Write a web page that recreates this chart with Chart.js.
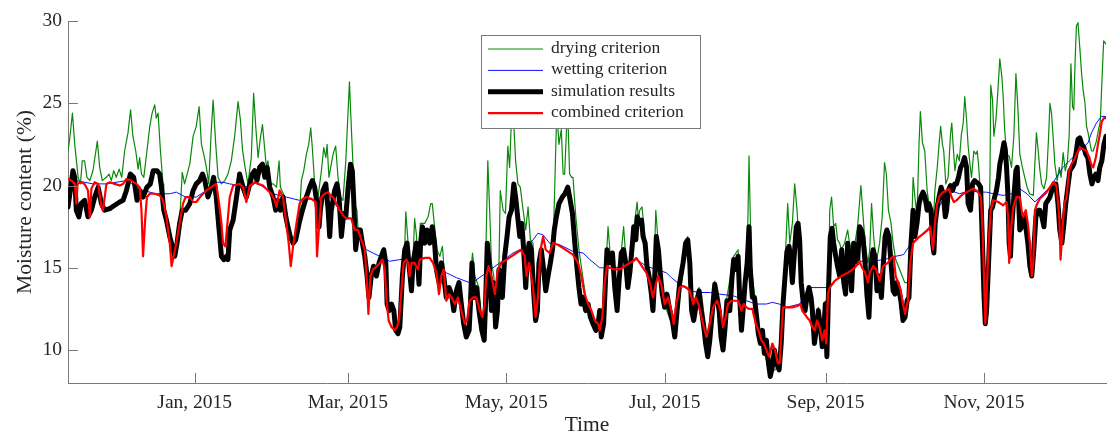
<!DOCTYPE html>
<html lang="en">
<head>
<meta charset="UTF-8">
<title>Moisture content</title>
<script src="https://cdn.jsdelivr.net/npm/chart.js@4"></script>
<style>
  html, body { margin: 0; padding: 0; background: #fff; }
  #wrap { width: 1108px; height: 434px; position: relative; }
</style>
</head>
<body>
<div id="wrap"><canvas id="chart"></canvas></div>
<script>
// x values are days counted from 1 Jan 2015
const monthDays = [0, 59, 120, 181, 243, 304];
const monthLabels = ['Jan, 2015', 'Mar, 2015', 'May, 2015', 'Jul, 2015', 'Sep, 2015', 'Nov, 2015'];
const moistureTicks = [10, 15, 20, 25, 30];

// [day, moisture %]
const dryingCriterion = [
  [-48.8,22.1],[-48.1,22.9],[-47.1,24.4],[-46.2,22.5],[-44.9,20.5],[-44.0,20.1],[-43.3,21.5],[-42.4,21.5],[-41.5,20.5],[-40.4,20.3],
  [-39.2,20.9],[-37.5,22.7],[-36.6,21.1],[-35.6,20.3],[-34.0,20.5],[-33.0,20.7],[-32.1,20.3],[-31.2,20.9],[-30.2,20.5],[-29.1,21.0],
  [-28.1,20.5],[-27.0,22.1],[-25.7,23.2],[-24.7,24.6],[-23.8,23.0],[-22.7,22.1],[-21.8,21.0],[-21.2,21.7],[-20.5,20.7],[-19.6,20.5],
  [-18.4,22.1],[-17.3,23.6],[-16.4,24.4],[-15.4,24.9],[-14.8,24.1],[-14.1,24.4],[-13.2,22.1],[-12.2,20.1],[-11.9,18.6],[-10.9,18.0],
  [-9.6,17.0],[-8.3,16.2],[-7.7,15.8],[-6.8,16.6],[-5.8,17.8],[-4.8,20.8],[-3.9,20.1],[-1.9,21.3],[-0.6,23.0],[0.6,23.6],
  [1.7,24.8],[2.6,22.5],[3.5,21.9],[4.5,21.1],[5.4,20.1],[6.4,23.4],[7.1,25.2],[8.1,22.5],[9.0,20.5],[10.3,20.1],
  [11.6,20.3],[12.8,20.7],[14.1,21.5],[15.4,23.0],[16.7,25.1],[17.6,24.0],[18.4,22.2],[19.3,21.2],[20.5,20.1],[21.8,21.7],
  [22.7,25.6],[23.5,23.6],[24.4,21.7],[25.3,22.9],[26.1,23.7],[26.8,22.5],[27.6,21.1],[28.2,21.5],[29.1,20.1],[30.2,20.1],
  [31.5,19.9],[32.5,21.5],[33.0,19.9],[34.7,19.3],[35.9,17.6],[36.8,17.0],[37.9,16.6],[38.9,16.8],[40.2,17.8],[41.1,20.3],
  [42.0,20.9],[43.0,21.9],[43.9,22.5],[44.7,23.5],[45.3,22.3],[46.2,20.1],[47.5,19.3],[48.8,20.9],[49.7,22.3],[50.5,21.7],
  [51.0,22.5],[51.7,20.5],[52.6,21.3],[53.3,21.9],[54.3,22.4],[55.2,20.5],[56.1,19.3],[57.1,19.1],[58.2,21.5],[59.1,24.6],
  [59.6,26.3],[60.2,24.0],[61.0,21.1],[61.6,18.9],[62.5,18.5],[62.9,17.4],[63.8,17.4],[64.6,16.6],[65.5,15.8],[66.4,14.6],
  [67.1,13.3],[68.0,14.6],[68.9,15.2],[70.0,14.6],[71.0,15.4],[71.9,15.8],[72.8,16.2],[73.6,15.4],[74.1,12.9],[74.9,12.5],
  [75.8,12.9],[76.7,12.5],[77.4,11.3],[78.3,11.1],[79.0,11.5],[80.0,14.6],[80.9,16.2],[81.3,18.4],[82.2,16.5],[82.8,15.2],
  [83.5,13.7],[84.1,15.6],[84.7,18.0],[85.4,17.0],[86.4,14.1],[86.9,17.7],[88.6,17.7],[89.9,18.1],[90.9,18.9],[91.5,18.9],
  [92.4,17.5],[93.3,16.1],[94.4,15.7],[95.4,16.3],[96.3,14.5],[96.9,13.3],[98.0,13.9],[98.9,13.5],[99.8,12.5],[100.8,13.7],
  [101.8,14.2],[102.7,12.9],[103.6,11.7],[104.6,10.9],[105.7,11.3],[106.2,13.0],[106.8,15.5],[107.0,15.9],[107.9,14.5],[109.5,13.8],
  [110.6,11.3],[111.5,10.7],[112.1,15.7],[112.9,21.5],[113.6,18.5],[114.3,15.3],[115.2,14.5],[115.9,11.5],[116.6,12.5],[117.2,15.3],
  [117.7,19.7],[118.8,18.5],[119.7,18.3],[120.6,22.4],[121.3,21.1],[122.1,24.5],[122.6,24.0],[123.0,23.4],[123.6,21.5],[124.5,20.1],
  [125.4,19.9],[126.5,18.5],[127.5,17.3],[128.4,18.7],[129.3,16.7],[130.3,16.5],[130.6,13.5],[131.3,11.9],[132.0,12.5],[132.6,15.4],
  [133.5,16.2],[134.8,14.9],[136.1,14.9],[137.4,16.5],[138.3,17.7],[139.1,22.5],[139.5,24.5],[140.3,22.5],[141.2,23.4],[141.9,20.7],
  [142.5,20.7],[143.2,23.4],[143.7,24.4],[144.4,20.7],[145.2,20.5],[145.7,20.5],[146.8,18.1],[148.0,16.1],[150.6,13.2],[153.4,12.0],
  [156.6,11.2],[158.3,14.8],[159.2,17.5],[160.2,15.5],[162.7,12.6],[164.3,16.0],[165.2,17.5],[166.8,14.0],[168.6,16.7],[170.4,19.0],
  [170.9,17.9],[171.4,18.5],[172.3,18.7],[173.5,16.7],[175.9,13.6],[176.5,12.6],[177.6,18.5],[178.6,16.3],[181.0,12.8],[184.9,11.0],
  [189.9,16.9],[191.4,12.6],[194.3,13.8],[197.6,9.8],[200.3,14.2],[203.5,10.2],[205.0,13.2],[207.6,15.7],[209.3,16.1],[210.6,11.4],
  [212.8,15.5],[213.5,21.8],[214.0,18.0],[214.4,15.0],[215.6,13.4],[217.9,10.6],[221.7,8.6],[225.1,9.0],[225.9,11.0],[226.6,13.0],
  [227.6,16.1],[228.4,18.9],[229.2,16.5],[230.2,17.7],[231.1,20.1],[232.0,18.5],[232.7,16.5],[233.6,13.8],[234.5,13.2],[236.6,13.9],
  [237.9,12.6],[238.7,10.6],[240.2,12.6],[241.7,10.4],[242.9,13.0],[243.5,9.8],[244.2,14.5],[244.6,18.5],[245.3,19.3],[246.1,17.5],
  [246.9,17.7],[247.6,16.7],[248.4,16.5],[249.1,16.1],[250.3,16.5],[251.5,17.3],[252.3,16.4],[253.8,16.0],[255.3,17.5],[256.6,20.0],
  [257.1,18.9],[258.2,16.5],[259.3,15.3],[260.0,16.1],[260.7,18.9],[261.5,16.9],[262.5,15.3],[263.8,16.5],[264.8,18.1],[265.7,21.4],
  [266.4,20.7],[267.2,18.5],[268.2,17.7],[269.0,16.5],[270.0,15.5],[271.5,14.9],[273.5,14.1],[275.1,14.1],[276.0,16.5],[276.7,20.5],
  [277.4,19.3],[278.2,18.1],[279.0,22.6],[279.5,24.5],[280.3,22.6],[281.2,22.1],[282.1,19.7],[282.8,18.9],[283.6,18.5],[284.4,17.5],
  [285.1,19.7],[286.0,21.1],[286.7,22.5],[287.3,23.6],[288.0,22.5],[288.5,22.1],[289.3,20.1],[290.2,20.5],[291.1,23.1],[291.6,23.8],
  [292.1,22.5],[292.8,20.9],[293.7,21.9],[294.5,21.5],[295.3,23.1],[296.0,23.8],[296.6,25.4],[297.3,24.0],[297.9,22.4],[298.6,21.3],
  [299.2,20.5],[300.1,22.1],[300.9,21.9],[301.4,22.1],[301.9,21.3],[302.4,20.1],[302.8,19.9],[303.4,16.7],[304.0,13.6],[304.5,11.8],
  [305.0,12.6],[305.8,15.6],[306.3,20.5],[306.6,26.1],[307.3,25.2],[307.8,23.0],[308.6,24.0],[309.3,25.6],[310.1,27.7],[310.9,26.6],
  [311.4,25.4],[311.9,23.6],[312.7,21.8],[313.7,21.8],[314.6,21.1],[315.5,23.0],[316.3,26.8],[317.1,24.6],[317.8,21.9],[318.8,21.1],
  [319.7,20.5],[320.6,19.9],[321.6,19.5],[323.0,19.4],[323.6,21.3],[324.2,23.2],[324.9,22.1],[325.5,21.0],[326.2,20.1],[327.1,19.8],
  [328.1,20.5],[328.9,23.0],[329.4,25.0],[330.0,24.4],[330.7,22.8],[331.3,21.3],[332.2,20.3],[333.0,21.1],[333.7,20.5],[334.5,22.0],
  [335.3,20.9],[336.1,21.4],[336.8,23.0],[337.5,27.4],[338.1,24.8],[338.6,24.6],[339.1,27.6],[339.6,29.7],[340.2,29.9],[340.9,28.4],
  [341.6,26.8],[342.2,25.8],[342.9,25.0],[343.5,23.6],[344.1,23.2],[344.8,22.6],[345.4,22.1],[346.1,22.1],[347.3,22.7],[348.0,23.3],
  [348.8,23.9],[349.5,26.6],[350.1,28.8],[351.0,28.6]
];

const wettingCriterion = [
  [-48.8,20.4],[-39.2,20.1],[-34.0,20.1],[-26.3,20.3],[-19.9,19.7],[-14.8,19.5],[-9.6,19.5],[-7.1,19.6],[-3.5,19.3],[0.6,19.3],
  [4.5,19.7],[8.3,20.2],[10.9,20.2],[13.5,20.1],[21.2,19.9],[23.8,20.2],[30.2,19.5],[35.3,19.3],[40.4,19.1],[43.0,19.2],
  [46.9,19.1],[50.7,19.6],[55.8,18.5],[58.4,18.1],[61.0,17.9],[66.1,16.1],[68.7,15.9],[72.5,15.6],[75.1,15.4],[79.0,15.5],
  [84.1,15.6],[90.5,15.6],[91.8,15.3],[96.9,14.7],[100.8,14.4],[105.9,14.1],[107.9,14.2],[112.3,14.7],[117.5,15.3],[122.6,15.9],
  [127.8,16.3],[130.3,16.7],[132.2,17.1],[134.2,17.0],[136.7,16.5],[140.6,16.4],[145.7,16.0],[149.6,15.9],[152.2,15.5],[156.0,15.0],
  [161.1,15.0],[166.3,15.1],[170.1,15.5],[174.0,15.1],[177.8,14.9],[181.7,14.7],[183.6,14.4],[186.8,14.0],[190.7,13.6],[194.5,13.5],
  [198.4,13.5],[202.2,13.4],[207.4,13.3],[212.5,13.0],[216.3,12.8],[220.2,12.8],[222.5,12.9],[225.1,12.8],[227.9,12.6],[233.0,12.8],
  [235.6,13.4],[236.9,13.8],[243.5,13.8],[244.6,13.9],[246.5,14.2],[251.6,14.7],[256.1,15.4],[261.3,15.4],[265.1,15.5],[268.3,15.6],
  [270.0,15.7],[273.0,15.8],[276.0,16.5],[279.2,16.9],[283.3,17.5],[286.3,18.6],[288.9,19.3],[291.0,19.7],[294.6,19.5],[298.5,19.7],
  [302.2,19.6],[305.0,19.6],[307.6,19.5],[311.4,19.4],[314.7,19.5],[317.8,19.8],[320.6,19.5],[323.6,19.0],[326.8,19.5],[329.4,19.9],
  [331.9,20.5],[334.4,21.1],[336.9,21.5],[340.8,22.1],[344.1,22.6],[345.4,23.2],[347.3,23.8],[349.2,24.2],[351.0,24.2]
];

const simulationResults = [
  [-48.8,18.7],[-47.9,19.7],[-46.9,20.9],[-46.2,20.5],[-45.6,18.5],[-44.6,18.1],[-43.7,18.9],[-42.4,19.1],[-41.1,18.1],[-39.8,18.5],
  [-38.5,19.3],[-37.2,19.9],[-35.9,18.9],[-34.7,18.5],[-32.7,18.6],[-30.8,18.8],[-28.9,19.0],[-27.6,19.1],[-26.3,19.7],[-24.8,20.7],
  [-23.5,20.5],[-22.2,19.1],[-21.2,19.7],[-19.9,19.3],[-18.4,19.9],[-17.1,20.1],[-16.0,20.9],[-14.5,20.9],[-13.5,20.7],[-12.8,19.9],
  [-11.9,18.5],[-10.9,17.9],[-9.6,16.9],[-8.3,16.1],[-7.7,15.7],[-6.8,16.5],[-5.8,17.7],[-4.8,18.5],[-3.5,18.5],[-1.9,18.9],
  [-0.6,19.7],[0.6,20.1],[1.9,20.3],[3.0,20.7],[3.9,20.3],[5.1,19.3],[6.4,19.9],[7.3,20.5],[8.3,19.3],[9.4,17.3],
  [10.3,15.7],[11.2,15.5],[12.2,15.7],[12.8,15.5],[13.5,17.3],[14.8,17.9],[16.1,19.3],[17.3,20.7],[18.6,19.9],[19.9,19.3],
  [20.9,19.9],[22.2,20.7],[23.1,20.9],[24.0,20.3],[25.0,21.1],[26.1,21.3],[27.0,20.5],[27.9,21.1],[28.9,19.9],[30.2,19.3],
  [31.2,18.5],[32.1,19.1],[33.0,18.5],[34.0,19.3],[35.1,18.1],[35.9,17.5],[36.8,16.9],[37.9,16.5],[38.9,16.7],[40.2,17.7],
  [41.5,18.5],[43.0,19.3],[44.3,19.9],[45.3,20.3],[46.2,19.9],[47.1,18.9],[47.9,17.5],[48.4,18.5],[49.4,19.7],[50.5,20.1],
  [51.4,18.5],[52.0,16.9],[52.6,18.5],[53.9,19.7],[54.8,20.1],[55.6,19.3],[56.5,16.9],[57.4,18.3],[58.2,18.1],[59.1,19.9],
  [60.0,21.3],[60.7,20.9],[61.2,19.3],[62.0,16.1],[62.9,17.3],[63.8,17.3],[64.6,16.5],[65.5,15.7],[66.4,14.5],[67.1,13.2],
  [68.0,14.5],[68.9,15.1],[70.0,14.5],[71.0,15.3],[71.9,15.7],[72.8,16.1],[73.6,15.3],[74.1,12.8],[74.9,12.4],[75.8,12.8],
  [76.7,12.4],[77.4,11.2],[78.3,11.0],[79.0,11.4],[80.0,14.5],[80.9,16.1],[81.8,16.5],[82.6,15.1],[83.5,13.6],[84.1,15.3],
  [85.4,16.5],[86.4,14.0],[87.0,16.5],[87.7,17.5],[88.6,16.5],[89.5,17.3],[90.5,16.5],[91.5,17.5],[92.4,16.5],[93.1,14.9],
  [94.1,14.1],[95.0,15.3],[95.9,14.5],[96.9,13.2],[98.0,13.8],[98.9,13.4],[99.8,12.4],[100.8,13.6],[101.8,14.1],[102.7,12.8],
  [103.6,11.6],[104.6,10.8],[105.7,11.2],[106.2,12.8],[106.8,15.3],[107.5,13.2],[108.5,13.8],[109.5,12.4],[110.6,11.2],[111.5,10.6],
  [112.1,13.2],[112.7,16.5],[113.4,15.3],[114.3,12.4],[115.2,14.1],[115.9,11.4],[116.6,12.4],[117.2,14.9],[117.7,14.1],[118.5,13.2],
  [119.4,15.7],[120.3,16.9],[121.1,18.1],[122.0,18.5],[122.9,20.1],[123.6,19.3],[124.4,18.1],[125.2,16.9],[126.0,17.7],[126.7,16.1],
  [127.5,13.8],[128.0,15.3],[128.8,16.5],[129.7,16.1],[130.6,13.4],[131.3,11.8],[132.0,12.4],[132.6,15.3],[133.5,16.1],[134.4,14.9],
  [135.2,13.6],[136.1,14.5],[137.0,15.3],[137.8,16.1],[138.5,17.3],[139.3,18.1],[140.3,18.9],[141.6,19.3],[142.6,19.5],[143.7,19.9],
  [144.4,19.3],[145.5,18.3],[146.4,16.5],[147.3,14.9],[148.0,13.8],[148.8,12.8],[149.6,13.2],[150.6,12.4],[151.5,12.8],[152.4,12.0],
  [153.4,11.6],[154.5,11.2],[155.4,11.6],[156.0,12.4],[156.6,10.8],[157.5,11.6],[158.3,14.5],[158.8,16.1],[159.6,15.7],[160.2,15.3],
  [160.9,15.9],[161.8,13.8],[162.7,12.4],[163.4,14.1],[164.3,15.9],[165.2,16.1],[166.0,15.3],[166.8,13.8],[167.6,14.7],[168.6,16.5],
  [169.1,17.5],[169.9,16.7],[170.5,18.1],[171.2,17.7],[172.1,17.9],[172.7,16.9],[173.5,16.5],[174.2,15.1],[175.0,14.5],[175.9,13.4],
  [176.5,12.4],[177.2,14.5],[177.8,16.9],[178.6,16.1],[179.4,14.5],[180.1,13.4],[181.0,12.6],[181.9,13.4],[183.0,12.4],[184.0,11.8],
  [184.9,10.8],[185.8,12.4],[186.8,14.1],[188.1,15.3],[189.1,16.5],[189.9,16.7],[190.7,15.3],[191.4,12.4],[192.2,11.8],[193.2,12.8],
  [194.3,13.6],[195.2,12.4],[196.1,11.4],[196.8,10.4],[197.6,9.6],[198.4,10.6],[199.4,12.4],[200.3,14.0],[201.2,13.2],[202.0,12.4],
  [202.7,10.8],[203.5,10.0],[204.3,11.4],[205.0,13.0],[206.1,12.4],[207.0,14.5],[207.6,15.5],[208.4,14.9],[209.3,15.7],[209.9,13.2],
  [210.6,11.2],[211.2,12.4],[212.0,14.1],[212.8,15.3],[213.5,17.5],[214.0,14.9],[214.8,13.2],[215.6,13.2],[216.3,12.2],[217.1,11.0],
  [217.9,10.4],[218.7,11.2],[219.4,9.8],[220.2,10.6],[221.0,9.2],[221.7,8.4],[222.5,9.0],[223.3,10.0],[224.1,9.2],[225.1,8.8],
  [225.9,10.4],[226.6,12.8],[227.2,14.1],[228.1,16.0],[228.9,16.3],[229.5,15.7],[230.2,14.1],[230.9,15.7],[231.7,17.5],[232.4,17.7],
  [233.0,16.7],[233.6,14.1],[234.3,13.0],[235.1,12.4],[235.8,13.2],[236.6,13.8],[237.4,13.2],[237.9,12.4],[238.7,10.4],[239.4,11.2],
  [240.2,12.4],[241.0,11.4],[241.7,10.2],[242.3,11.2],[242.9,12.8],[243.5,9.6],[244.2,14.1],[244.8,16.9],[245.5,17.4],[246.1,16.5],
  [246.9,15.7],[247.6,15.1],[248.4,14.5],[249.2,16.1],[250.0,14.1],[250.7,13.4],[251.5,16.5],[252.3,15.3],[253.0,13.6],[253.8,16.5],
  [254.6,16.1],[255.3,15.3],[256.1,17.5],[256.8,17.3],[257.4,16.9],[258.2,15.3],[258.9,13.4],[259.7,12.0],[260.5,15.3],[261.3,16.1],
  [262.0,15.7],[262.8,13.6],[263.6,14.5],[264.5,13.2],[265.1,14.9],[265.9,16.9],[266.6,17.3],[267.4,16.9],[268.2,15.3],[269.0,13.6],
  [269.7,13.4],[270.5,14.1],[271.3,13.6],[272.0,13.0],[272.8,11.8],[273.6,12.0],[274.4,13.0],[275.1,13.2],[275.9,16.5],[276.7,18.5],
  [277.4,16.9],[278.2,17.7],[279.0,18.9],[279.7,19.3],[280.5,19.6],[281.3,19.3],[282.1,18.5],[282.8,18.9],[283.6,18.5],[284.2,16.5],
  [284.7,15.9],[285.2,17.7],[286.0,18.7],[286.7,19.3],[287.5,19.9],[288.3,19.5],[289.1,18.1],[289.6,18.5],[290.3,19.7],[291.1,20.0],
  [291.9,19.7],[292.7,20.1],[293.4,20.1],[294.2,20.5],[295.0,21.1],[295.7,21.3],[296.5,21.7],[297.3,21.1],[297.9,18.9],[298.8,18.5],
  [299.6,20.1],[300.4,20.3],[301.1,20.2],[301.9,20.1],[302.7,19.9],[303.4,16.5],[304.0,13.4],[304.5,11.6],[305.0,12.4],[305.8,15.4],
  [306.6,18.5],[307.3,18.7],[308.1,19.3],[308.8,19.7],[309.6,20.5],[310.1,21.3],[310.9,21.9],[311.7,22.6],[312.2,22.2],[312.7,21.1],
  [313.2,19.5],[313.7,16.5],[314.2,15.7],[314.7,17.5],[315.5,19.3],[316.3,20.9],[316.8,21.1],[317.3,19.3],[317.8,17.3],[318.6,17.5],
  [319.4,18.1],[320.1,17.5],[320.9,16.5],[321.7,15.1],[322.4,14.5],[323.2,16.1],[324.0,18.1],[324.8,18.5],[325.5,18.5],[326.3,18.1],
  [327.1,17.5],[327.8,18.9],[328.6,19.1],[329.4,19.3],[330.1,19.7],[330.9,20.1],[331.7,20.1],[332.5,18.9],[333.2,17.3],[334.0,16.5],
  [334.8,17.7],[335.5,18.9],[336.3,19.9],[337.1,20.9],[337.9,21.1],[338.6,21.3],[339.4,21.9],[340.2,22.8],[340.9,22.9],[341.7,22.5],
  [342.5,22.3],[343.2,21.9],[344.0,21.7],[344.8,20.7],[345.6,20.1],[346.3,20.5],[347.1,20.7],[347.9,20.3],[348.6,21.1],[349.4,21.5],
  [350.2,22.5],[351.0,23.0]
];

const combinedCriterion = [
  [-48.8,20.4],[-47.5,20.3],[-46.2,20.1],[-45.6,18.9],[-45.1,20.1],[-44.0,20.2],[-42.4,20.1],[-41.1,19.7],[-40.4,18.1],[-39.8,19.8],
  [-38.5,20.2],[-37.2,20.1],[-35.9,18.7],[-35.3,18.5],[-34.0,20.1],[-32.7,20.2],[-30.8,20.1],[-28.9,20.0],[-27.6,20.1],[-26.3,20.4],
  [-24.4,20.3],[-22.5,20.1],[-21.2,19.9],[-20.5,18.5],[-19.9,15.7],[-19.1,17.9],[-18.4,19.3],[-17.3,19.5],[-15.4,19.5],[-13.5,19.4],
  [-12.2,19.1],[-10.9,18.1],[-9.6,16.5],[-8.9,15.1],[-8.1,15.7],[-7.1,16.5],[-5.8,17.7],[-4.5,18.9],[-3.5,19.3],[-1.9,19.3],
  [-0.6,19.0],[0.6,19.0],[2.6,19.4],[4.5,19.7],[6.4,19.9],[8.3,20.1],[9.4,18.9],[10.3,17.7],[10.9,16.5],[11.8,16.3],
  [12.6,17.7],[13.5,19.3],[14.8,20.0],[17.3,20.1],[18.6,19.9],[19.9,19.0],[21.2,20.0],[23.1,20.2],[24.4,20.1],[26.3,20.0],
  [28.2,19.7],[29.5,19.5],[30.8,19.1],[31.5,18.7],[32.7,19.7],[34.0,19.3],[35.3,17.7],[36.2,16.5],[37.0,15.1],[37.9,16.3],
  [39.2,17.7],[40.4,18.9],[41.7,19.2],[43.0,19.3],[44.9,19.2],[46.6,19.0],[47.1,15.7],[47.9,17.5],[48.8,19.3],[50.1,19.5],
  [51.4,19.6],[52.3,19.4],[53.3,19.3],[54.6,18.9],[55.8,18.5],[57.1,18.2],[58.4,18.0],[60.3,18.0],[61.6,17.3],[62.9,17.3],
  [64.2,16.7],[65.5,16.1],[66.4,13.9],[66.9,12.2],[67.7,14.5],[68.7,14.9],[70.2,15.1],[71.3,15.3],[72.3,15.5],[73.2,14.9],
  [73.8,13.2],[74.7,11.8],[75.8,11.4],[77.0,11.2],[77.9,11.4],[78.7,11.8],[79.6,13.6],[80.5,15.3],[81.5,15.5],[82.2,15.3],
  [82.8,14.5],[83.5,15.3],[84.7,15.3],[86.0,14.9],[86.7,15.5],[88.6,15.6],[90.5,15.6],[91.8,15.3],[93.1,14.7],[94.1,13.4],
  [95.0,14.5],[95.9,14.9],[96.9,13.0],[98.0,13.4],[98.9,13.2],[100.2,12.8],[101.4,13.2],[102.7,12.4],[104.0,11.6],[104.9,11.8],
  [105.9,13.0],[107.2,13.2],[108.5,13.2],[109.8,12.4],[110.8,12.0],[111.7,12.8],[112.3,14.5],[113.2,15.1],[114.3,14.5],[115.6,13.4],
  [116.8,14.9],[118.1,15.3],[120.1,15.5],[122.0,15.7],[123.9,15.9],[125.8,16.1],[127.1,15.7],[127.8,14.5],[128.8,15.3],[130.3,13.8],
  [131.3,12.0],[132.2,13.2],[133.2,16.1],[134.2,16.9],[135.2,16.1],[136.7,15.9],[138.0,16.5],[139.9,16.4],[141.9,16.2],[143.8,16.0],
  [145.7,15.8],[147.7,15.3],[148.9,14.5],[150.2,13.4],[151.5,12.8],[152.8,12.4],[154.1,11.8],[155.4,11.6],[156.0,11.2],[157.0,12.0],
  [157.9,14.1],[158.8,15.1],[159.9,15.0],[161.8,14.9],[163.7,14.9],[165.6,15.1],[167.6,15.3],[168.8,15.4],[170.1,15.6],[171.4,15.3],
  [172.7,15.0],[174.0,14.7],[175.3,14.1],[176.5,13.2],[177.6,14.0],[178.5,14.5],[179.8,13.9],[181.0,12.8],[182.3,13.2],[183.6,12.4],
  [184.5,11.6],[185.5,12.8],[186.8,13.8],[188.1,13.9],[189.4,13.8],[190.7,13.6],[192.0,12.8],[193.0,13.2],[194.0,12.8],[195.2,12.0],
  [196.1,11.4],[197.1,10.8],[198.4,11.6],[199.7,12.6],[201.2,13.0],[202.5,12.4],[203.5,11.4],[204.5,12.0],[205.4,12.8],[206.7,13.0],
  [208.0,13.0],[209.3,13.0],[210.6,12.4],[211.5,12.8],[212.5,12.6],[213.5,12.5],[214.8,12.5],[216.1,11.6],[217.1,11.2],[218.3,10.6],
  [219.2,10.4],[220.2,10.0],[221.2,9.6],[222.5,10.4],[223.5,10.0],[224.6,9.2],[225.3,9.2],[225.9,10.8],[226.6,12.6],[227.9,12.6],
  [230.4,12.6],[232.4,12.7],[233.3,12.8],[234.0,12.4],[234.9,12.2],[235.8,12.0],[236.9,11.8],[237.9,11.4],[238.8,11.2],[239.7,11.8],
  [240.7,11.4],[241.7,10.6],[242.6,11.2],[243.3,10.4],[243.9,13.4],[244.6,13.8],[246.5,14.2],[249.1,14.5],[251.6,14.7],[254.2,15.0],
  [256.1,15.4],[257.1,15.0],[258.2,14.7],[259.3,14.1],[260.0,14.7],[261.3,15.1],[262.5,14.9],[263.8,14.2],[265.1,15.1],[267.0,15.3],
  [268.3,15.6],[269.2,15.7],[270.0,14.5],[270.9,14.1],[271.8,13.7],[272.8,12.8],[273.6,12.2],[274.7,13.0],[275.6,15.3],[276.7,16.5],
  [277.9,16.7],[279.2,16.9],[280.8,17.1],[282.4,17.3],[283.3,17.5],[284.4,16.1],[285.1,17.7],[286.0,18.9],[287.0,19.4],[288.3,19.6],
  [289.6,19.7],[290.6,19.8],[291.5,19.3],[292.4,19.0],[293.4,19.1],[294.7,19.3],[296.0,19.5],[297.3,19.6],[298.6,19.7],[299.8,19.8],
  [301.1,19.7],[302.2,19.5],[302.8,19.3],[303.4,17.5],[304.0,14.5],[304.5,11.6],[305.0,13.4],[305.8,16.5],[306.6,18.5],[307.6,19.1],
  [309.5,19.0],[311.4,18.8],[312.7,19.0],[313.3,18.1],[313.7,15.3],[314.4,17.3],[315.3,18.7],[316.5,19.3],[317.8,19.3],[318.5,18.5],
  [319.1,18.1],[320.1,18.5],[320.9,17.7],[321.7,16.5],[322.4,14.5],[323.0,15.3],[323.6,18.5],[324.5,18.9],[325.5,19.2],[326.8,19.4],
  [328.1,19.6],[329.4,19.9],[330.7,20.2],[331.9,20.0],[333.0,18.1],[333.5,15.5],[334.3,17.5],[335.0,18.9],[335.8,19.3],[336.8,20.9],
  [337.7,21.3],[338.6,21.5],[339.6,21.9],[340.9,22.3],[342.2,22.2],[343.5,22.1],[344.5,21.7],[345.3,21.3],[346.1,21.1],[347.1,21.7],
  [347.9,22.5],[348.6,23.1],[349.4,23.9],[350.2,24.1],[351.0,24.1]
];

const serif = "'Liberation Serif', 'Times New Roman', serif";
const axisGrey = '#7a7a7a';
const textGrey = '#262626';

const toPoints = rows => rows.map(r => ({ x: r[0], y: r[1] }));

// MATLAB style: tick marks pointing into the plot
const insideTicks = {
  id: 'insideTicks',
  afterDatasetsDraw(chart) {
    const { ctx, chartArea: a, scales: { x, y } } = chart;
    ctx.save();
    ctx.strokeStyle = axisGrey;
    ctx.lineWidth = 1;
    ctx.beginPath();
    x.ticks.forEach(t => {
      const px = Math.round(x.getPixelForValue(t.value)) + 0.5;
      ctx.moveTo(px, a.bottom);
      ctx.lineTo(px, a.bottom - 10);
    });
    y.ticks.forEach(t => {
      const py = Math.round(y.getPixelForValue(t.value)) + 0.5;
      ctx.moveTo(a.left, py);
      ctx.lineTo(a.left + 10, py);
    });
    ctx.stroke();
    ctx.restore();
  }
};

// legend box sitting on top of the lines
const boxedLegend = {
  id: 'boxedLegend',
  afterDatasetsDraw(chart) {
    const { ctx, chartArea: a } = chart;
    const left = a.left + 413, top = a.top + 14, w = 219, h = 93;
    ctx.save();
    ctx.fillStyle = '#fff';
    ctx.fillRect(left, top, w, h);
    ctx.strokeStyle = axisGrey;
    ctx.lineWidth = 1;
    ctx.strokeRect(left + 0.5, top + 0.5, w, h);
    ctx.font = '17.5px ' + serif;
    ctx.textBaseline = 'alphabetic';
    chart.data.datasets.forEach((ds, i) => {
      const cy = top + 14 + i * 21.4;
      ctx.strokeStyle = ds.borderColor;
      ctx.lineWidth = ds.borderWidth;
      ctx.beginPath();
      ctx.moveTo(left + 7, cy);
      ctx.lineTo(left + 62, cy);
      ctx.stroke();
      ctx.fillStyle = textGrey;
      ctx.fillText(ds.label, left + 70, cy + 4);
    });
    ctx.restore();
  }
};

new Chart(document.getElementById('chart'), {
  type: 'line',
  data: {
    datasets: [
      { label: 'drying criterion', data: toPoints(dryingCriterion), borderColor: '#0a880a', borderWidth: 1.2, order: 3 },
      { label: 'wetting criterion', data: toPoints(wettingCriterion), borderColor: '#1010ff', borderWidth: 1, order: 2 },
      { label: 'simulation results', data: toPoints(simulationResults), borderColor: '#000000', borderWidth: 5, order: 1 },
      { label: 'combined criterion', data: toPoints(combinedCriterion), borderColor: '#ff0000', borderWidth: 2.2, order: 0 }
    ]
  },
  options: {
    responsive: true,
    maintainAspectRatio: false,
    animation: false,
    elements: {
      point: { radius: 0 },
      line: { tension: 0, borderJoinStyle: 'round', borderCapStyle: 'round', fill: false }
    },
    layout: { padding: { top: 21, right: 2, left: 0, bottom: 0 } },
    plugins: { legend: { display: false }, tooltip: { enabled: false } },
    scales: {
      x: {
        type: 'linear',
        min: -48.8,
        max: 351,
        afterBuildTicks: s => { s.ticks = monthDays.map(v => ({ value: v })); },
        afterFit: s => { s.height = 51; },
        grid: { display: false, drawTicks: false },
        border: { display: true, color: axisGrey, width: 1 },
        ticks: {
          autoSkip: false, maxRotation: 0, padding: 10, color: textGrey,
          font: { family: serif, size: 19.5, lineHeight: 1 },
          callback: (v, i) => monthLabels[i]
        },
        title: {
          display: true, text: 'Time', color: textGrey, padding: 0,
          font: { family: serif, size: 21.5, lineHeight: 0.82 }
        }
      },
      y: {
        min: 8,
        max: 30,
        afterBuildTicks: s => { s.ticks = moistureTicks.map(v => ({ value: v })); },
        afterFit: s => { s.width = 68; },
        grid: { display: false, drawTicks: false },
        border: { display: true, color: axisGrey, width: 1 },
        ticks: { padding: 6, color: textGrey, font: { family: serif, size: 19.5 } },
        title: {
          display: true, text: 'Moisture content (%)', color: textGrey,
          padding: { top: 15, bottom: 0 },
          font: { family: serif, size: 21.5, lineHeight: 1 }
        }
      }
    }
  },
  plugins: [insideTicks, boxedLegend]
});
</script>
</body>
</html>
